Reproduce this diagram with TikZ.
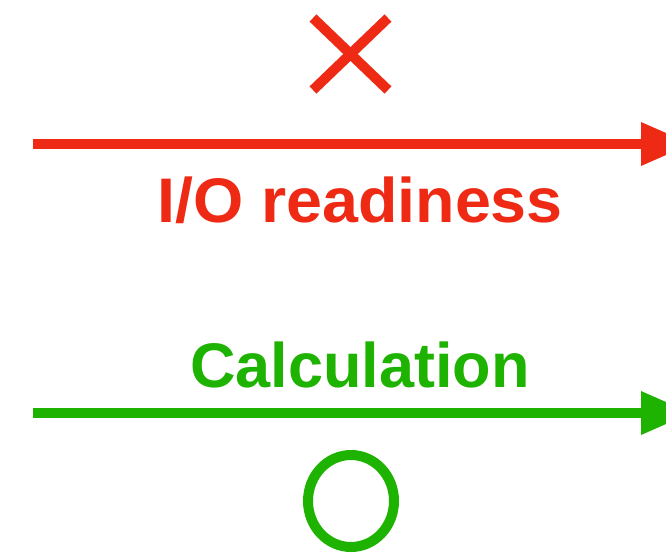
\documentclass[tikz,border=0pt]{standalone}
\usepackage{fontspec}
\setmainfont{Liberation Sans}
\usetikzlibrary{shapes.geometric}
\definecolor{myred}{HTML}{EE2A15}
\definecolor{mygreen}{HTML}{1DB300}
\begin{document}
\begin{tikzpicture}[x=1pt,y=-1pt,
  lbl/.style={anchor=base,inner sep=0pt,font=\fontsize{63}{66}\selectfont\bfseries},
  shaft/.style={line width=10pt}]
\useasboundingbox[fill=white] (0,0) rectangle (666,557);
\clip (0,0) rectangle (666,557);
% red arrow
\coordinate (r0) at (33,144);
\coordinate (r1) at (642,144);
\draw[shaft,myred] (r0) -- (r1);
\fill[myred] (641,122) -- (691,144) -- (641,166) -- cycle;
\node[lbl,text=myred,xscale=1.025] (io) at (360,222) {I/O readiness};
% cross
\coordinate (xa) at (313,18);
\coordinate (xb) at (388,90);
\coordinate (xc) at (388,18);
\coordinate (xd) at (313,90);
\draw[myred,line width=10pt] (xa) -- (xb);
\draw[myred,line width=10pt] (xc) -- (xd);
% green arrow
\coordinate (g0) at (33,413);
\coordinate (g1) at (642,413);
\draw[shaft,mygreen] (g0) -- (g1);
\fill[mygreen] (641,391) -- (691,413) -- (641,435) -- cycle;
\node[lbl,text=mygreen] (calc) at (360,387) {Calculation};
% circle
\node[draw=mygreen,line width=10pt,ellipse,minimum width=86pt,minimum height=92pt,inner sep=0pt] (ok) at (351,501) {};
\end{tikzpicture}
\end{document}
